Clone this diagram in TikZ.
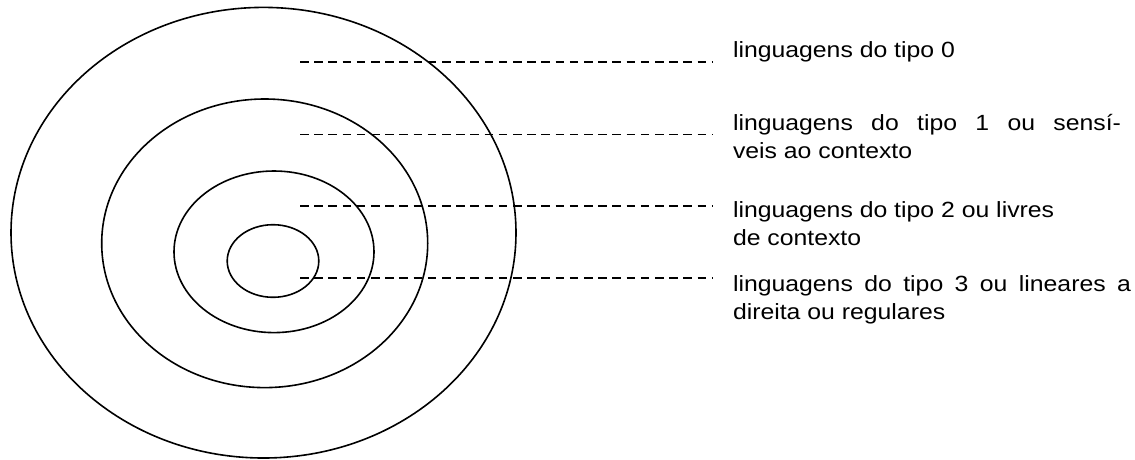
\documentclass[tikz,border=0pt]{standalone}
\usepackage{fontspec}
\newfontfamily\labelfont[FakeStretch=1.127]{Liberation Sans}
\begin{document}
\begin{tikzpicture}[x=1pt,y=-1pt,
  ring/.style={draw=black,line width=1.6pt},
  guide/.style={draw=black,line width=1.6pt,dash pattern=on 8.5pt off 5.7pt},
  label/.style={anchor=base west,inner sep=0pt,outer sep=0pt,
    font=\labelfont\fontsize{22}{28.5}\selectfont}]
\useasboundingbox (0,0) rectangle (1135,459);

% nested language classes
\draw[ring] (263.5,232.7) ellipse [x radius=252.5, y radius=225.3];
\draw[ring] (264.7,243.3) ellipse [x radius=163, y radius=144.3];
\draw[ring] (274,251.8) ellipse [x radius=100, y radius=80.8];
\draw[ring] (273,261) ellipse [x radius=45.8, y radius=36.3];

% leader lines
\coordinate (s0) at (300,62);    \coordinate (e0) at (713,62);
\coordinate (s1) at (300,134.5); \coordinate (e1) at (713,134.5);
\coordinate (s2) at (300,206);   \coordinate (e2) at (713,206);
\coordinate (s3) at (300,278);   \coordinate (e3) at (713,278);
\draw[guide] (s0) -- (e0);
\draw[guide] (s1) -- (e1);
\draw[guide] (s2) -- (e2);
\draw[guide] (s3) -- (e3);

% class names
\node[label] (t0) at (733,57.5) {\parbox[t]{420pt}{\raggedright linguagens do tipo 0}};
\node[label] (t1) at (733,130) {\parbox[t]{420pt}{\raggedright
  \makebox[388pt][s]{linguagens do tipo 1 ou sensí-}\\veis ao contexto}};
\node[label] (t2) at (733,217) {\parbox[t]{420pt}{\raggedright
  linguagens do tipo 2 ou livres\\de contexto}};
\node[label] (t3) at (733,291) {\parbox[t]{420pt}{\raggedright
  \makebox[398pt][s]{linguagens do tipo 3 ou lineares a}\\direita ou regulares}};
\end{tikzpicture}
\end{document}
